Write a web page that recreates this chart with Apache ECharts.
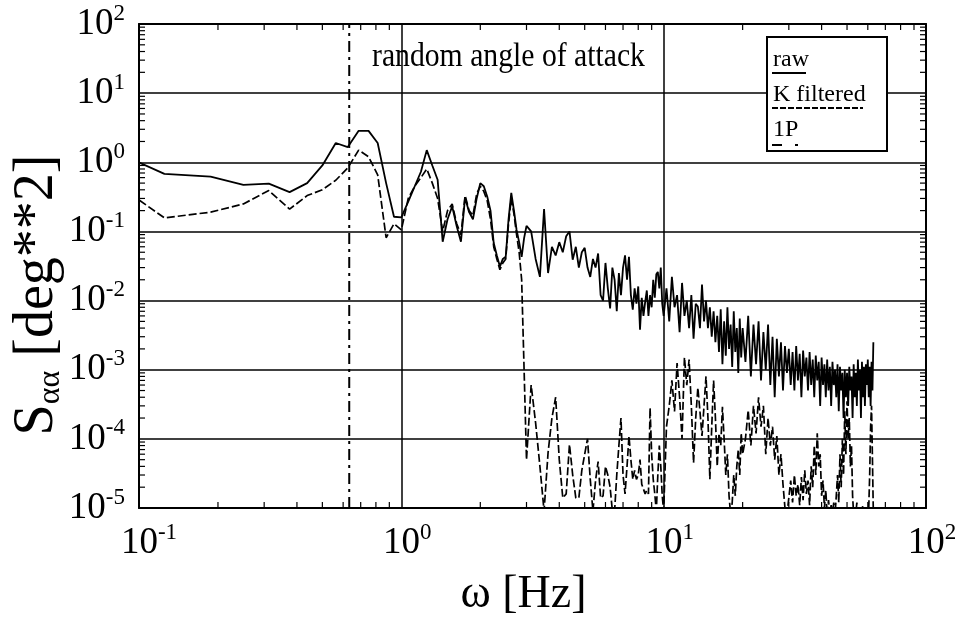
<!DOCTYPE html>
<html>
<head>
<meta charset="utf-8">
<script src="https://cdn.jsdelivr.net/npm/echarts@6/dist/echarts.min.js"></script>
<style>
  html, body { margin: 0; padding: 0; background: #fff; }
  #chart { width: 955px; height: 618px; }
</style>
</head>
<body>
<div id="chart"></div>
<script>
// Spectral density of the angle of attack: raw signal and Kalman-filtered estimate.
// Frequency bins [Hz], in four blocks of increasing spacing.
const freqA = [0.0625,0.125,0.1875,0.25,0.3125,0.375,0.4375,0.5,0.5625,0.625,0.6875,0.75,0.8125,0.875,0.9375,1.0,
  1.0625,1.125,1.1875,1.25,1.3125,1.375,1.4375,1.5,1.5625,1.625,1.6875,1.75,1.8125,1.875,1.9375,2.0,
  2.0625,2.125,2.1875,2.25,2.3125,2.375,2.4375,2.5,2.5625,2.625,2.6875,2.75,2.8125,2.875,2.9375,3.0];
const freqB = [3.125,3.25,3.375,3.5,3.625,3.75,3.875,4,4.125,4.25,4.375,4.5,4.625,4.75,4.875,5,
  5.125,5.25,5.375,5.5,5.625,5.75,5.875,6,6.125,6.25,6.375,6.5,6.625,6.75,6.875,7,
  7.125,7.25,7.375,7.5,7.625,7.75,7.875,8,8.125,8.25,8.375,8.5,8.625,8.75,8.875,9,
  9.125,9.25,9.375,9.5,9.625,9.75,9.875,10];
const freqC = [10.25,10.5,10.75,11,11.25,11.5,11.75,12,12.25,12.5,12.75,13,13.25,13.5,13.75,14,
  14.25,14.5,14.75,15,15.25,15.5,15.75,16,16.25,16.5,16.75,17,17.25,17.5,17.75,18,
  18.25,18.5,18.75,19,19.25,19.5,19.75,20];
const freqD = [20.5,21,21.5,22,22.5,23,23.5,24,24.5,25,25.5,26,26.5,27,27.5,28,28.5,29,29.5,30,
  30.5,31,31.5,32,32.5,33,33.5,34,34.5,35,35.5,36,36.5,37,37.5,38,38.5,39,39.5,40,
  40.5,41,41.5,42,42.5,43,43.5,44,44.5,45,45.5,46,46.5,47,47.5,48,48.5,49,49.5,50,
  50.5,51,51.5,52,52.5,53,53.5,54,54.5,55,55.5,56,56.5,57,57.5,58,58.5,59,59.5,60,
  60.5,61,61.5,62,62.5,63];

// Raw spectrum [deg^2]
const rawA = [2.2,0.68,0.62,0.47,0.49,0.37,0.50,0.9,1.9,1.66,2.85,2.85,1.9,0.5,0.163,0.16,
  0.27,0.45,0.73,1.5,0.9,0.56,0.071,0.15,0.23,0.12,0.071,0.31,0.19,0.15,0.30,0.50,
  0.45,0.32,0.2,0.068,0.045,0.031,0.04,0.043,0.15,0.36,0.2,0.105,0.07,0.043,0.08,0.12];
const rawB = [0.10,0.04,0.022,0.21,0.025,0.06,0.045,0.07,0.05,0.085,
  0.10,0.039,0.06,0.03,0.05,0.058,0.03,0.022,0.04,0.03,
  0.048,0.012,0.01,0.035,0.015,0.0077,0.03,0.02,0.007,0.025,
  0.012,0.03,0.045,0.02,0.043,0.012,0.0074,0.015,0.009,0.016,
  0.0038,0.011,0.006,0.0095,0.014,0.006,0.012,0.008,0.02,0.011,
  0.024,0.026,0.015,0.03,0.009,0.006];
const rawC = [0.015,0.005,0.022,0.008,0.012,0.0035,0.018,0.006,0.010,0.004,
  0.012,0.0028,0.009,0.0082,0.004,0.017,0.005,0.010,0.004,0.008,
  0.003,0.007,0.0025,0.006,0.0018,0.0075,0.0012,0.005,0.0016,0.008,
  0.002,0.0045,0.0011,0.007,0.0018,0.004,0.0009,0.0055,0.0015,0.004];
const rawD = [0.0013,0.006,0.0008,0.0045,0.0012,0.005,0.0007,0.0035,0.001,0.0045,
  0.0006,0.003,0.0004,0.0028,0.0008,0.0025,0.0005,0.0022,0.0009,0.002,
  0.0006,0.0018,0.0005,0.0022,0.0007,0.0017,0.0004,0.0019,0.0008,0.0015,
  0.0005,0.0018,0.0006,0.0014,0.0004,0.0016,0.0007,0.0013,0.0003,0.0015,
  0.0006,0.0012,0.0004,0.0014,0.0005,0.0011,0.0003,0.0013,0.0006,0.001,
  0.0004,0.0012,0.00025,0.0011,0.0005,0.0009,0.0002,0.001,0.0004,0.0009,
  0.0003,0.0011,0.0005,0.0008,0.0002,0.0012,0.0004,0.0009,0.0003,0.0014,
  0.0005,0.001,0.0002,0.0013,0.0004,0.0011,0.0003,0.0012,0.0006,0.0014,
  0.0004,0.0011,0.0003,0.0013,0.0005,0.0025];

// Kalman-filtered spectrum [deg^2]
const kfA = [1.0,0.157,0.19,0.25,0.39,0.21,0.33,0.40,0.55,0.83,1.5,1.2,0.66,0.081,0.129,0.105,
  0.3,0.45,0.6,0.8,0.5,0.3,0.1,0.2,0.25,0.13,0.09,0.33,0.2,0.17,0.35,0.45,
  0.38,0.28,0.15,0.06,0.04,0.028,0.035,0.04,0.13,0.30,0.18,0.09,0.05,0.02,0.001,0.00005];
const kfB = [6e-4,1.7e-4,4e-5,9e-6,6.3e-5,2e-4,4e-4,5e-5,1.4e-5,1.6e-5,
  8.3e-5,3e-5,1.4e-5,1.4e-5,3.5e-5,6e-5,1e-4,2.6e-5,9e-6,2.5e-5,
  4.7e-5,1.4e-5,1.5e-5,4e-5,3e-5,2e-5,9e-6,9e-6,3e-5,8e-5,
  2e-4,3e-5,1.6e-5,4e-5,1.1e-4,5e-5,2.6e-5,3.5e-5,2.6e-5,3e-5,
  5e-5,2.2e-5,2.2e-5,1.6e-5,1.8e-5,1.6e-5,2.8e-4,6e-5,2.6e-5,1.6e-5,
  9e-6,3e-5,8e-5,4e-5,1.5e-5,9e-6];
const kfC = [1.5e-4,3e-4,7e-4,2.5e-4,1.25e-3,4e-4,1e-4,1.5e-3,6e-4,1.4e-3,
  3e-4,4.5e-5,2e-4,5.5e-4,2.5e-4,1.1e-4,3e-4,8e-4,2e-4,2.6e-5,
  1.5e-4,7e-4,2e-4,4e-5,1.2e-4,8e-5,2.9e-4,1e-4,3e-5,6e-5,
  1.5e-5,8e-6,1.2e-5,3e-5,1.5e-5,4e-5,7e-5,3e-5,1.2e-4,6e-5];
const kfD = [1e-4,2.6e-4,8e-5,3e-4,1.2e-4,4e-4,1.5e-4,3e-4,6e-5,2e-4,
  8e-5,1.5e-4,5e-5,1.1e-4,3e-5,6e-5,2.2e-5,1e-5,8e-6,1.4e-5,
  2.5e-5,1.2e-5,3e-5,1.5e-5,2.2e-5,1.1e-5,2.8e-5,1.3e-5,3.5e-5,1.6e-5,
  2.5e-5,1.1e-5,4e-5,2e-5,8e-5,3e-5,1.2e-4,4e-5,6e-5,1.5e-5,
  2.5e-5,1e-5,1.8e-5,8e-6,1.3e-5,8e-6,1.1e-5,8e-6,1.2e-5,8e-6,
  1.5e-5,3e-5,1.2e-5,6e-5,2e-5,1e-4,3e-5,2.5e-4,6e-5,3.5e-4,
  1e-4,2e-4,4e-5,8e-5,1.5e-5,8e-6,1e-5,8e-6,1.2e-5,8e-6,
  8e-6,1e-5,8e-6,8e-6,1.1e-5,8e-6,8e-6,9e-6,8e-6,8e-6,
  1e-5,3e-5,1.5e-4,3e-4,5e-5,8e-6];

// Rotor 1P frequency [Hz]
const onePFreq = 0.633;

// Axis ranges and decade exponents used for the tick labels
const xRange = [0.1, 100];
const yRange = [1e-5, 100];
const xTickPowers = ['-1', '0', '1', '2'];
const yTickPowers = ['-5', '-4', '-3', '-2', '-1', '0', '1', '2'];
const minorMultipliers = [2, 3, 4, 5, 6, 7, 8, 9];

const freqHz = [...freqA, ...freqB, ...freqC, ...freqD];
const rawVals = [...rawA, ...rawB, ...rawC, ...rawD];
const kfVals = [...kfA, ...kfB, ...kfC, ...kfD];

const rawData = freqHz.map((f, i) => [f, rawVals[i]]);
const kfData = freqHz.map((f, i) => [f, kfVals[i]]);

// Minor tick positions (k * 10^n) on both log axes
function minorTickValues(powers) {
  const out = [];
  for (let i = 0; i < powers.length - 1; i++) {
    const base = Math.pow(10, Number(powers[i]));
    minorMultipliers.forEach(k => out.push(k * base));
  }
  return out;
}

const SERIF = '"Liberation Serif", "Times New Roman", serif';
const TICK_LEN = 6;

// "10" with the exponent raised; the x labels get a blank lead-in so that
// the mantissa, not the whole label, sits centred under the tick
function powerLabel(powers, padded) {
  return function (value) {
    const e = String(Math.round(Math.log10(value)));
    if (powers.indexOf(e) < 0) return '';
    const lead = padded ? (e.length > 1 ? '{p2|}' : '{p1|}') : '';
    return lead + '{b|10}{s|' + e + '}';
  };
}
const tickRich = {
  b: { fontFamily: SERIF, fontSize: 37, color: '#000', lineHeight: 44 },
  s: { fontFamily: SERIF, fontSize: 23, color: '#000', verticalAlign: 'top', lineHeight: 24 },
  p1: { width: 12 },
  p2: { width: 20 }
};

const frameLine = { show: true, lineStyle: { color: '#000', width: 2 } };
const gridLine = { show: true, lineStyle: { color: '#000', width: 1.5, type: 'solid' } };

const chart = echarts.init(document.getElementById('chart'), null, { renderer: 'canvas' });

chart.setOption({
  animation: false,
  backgroundColor: '#fff',
  grid: {
    left: 139, top: 24, width: 787, height: 484, show: false,
    containLabel: false, outerBoundsMode: 'none'
  },
  xAxis: [
    {
      type: 'log', min: xRange[0], max: xRange[1], splitNumber: 3,
      axisLine: frameLine, axisTick: { show: false }, splitLine: gridLine,
      axisLabel: { formatter: powerLabel(xTickPowers, true), rich: tickRich, margin: 13 },
      name: 'ω [Hz]', nameLocation: 'middle', nameGap: 64, nameMoveOverlap: false,
      nameTextStyle: { fontFamily: SERIF, fontSize: 46, color: '#000', padding: [0, 18, 0, 0] }
    },
    {
      type: 'log', position: 'top', min: xRange[0], max: xRange[1], splitNumber: 3,
      axisLine: frameLine, axisTick: { show: false }, splitLine: { show: false },
      axisLabel: { show: false }
    }
  ],
  yAxis: [
    {
      type: 'log', min: yRange[0], max: yRange[1], splitNumber: 7,
      axisLine: frameLine, axisTick: { show: false }, splitLine: gridLine,
      axisLabel: { formatter: powerLabel(yTickPowers, false), rich: tickRich, margin: 14 },
      name: '{m|S}{sub|αα}{m| [deg**2]}', nameLocation: 'middle', nameGap: 72, nameMoveOverlap: false,
      nameTextStyle: {
        padding: [0, 58, 0, 0],
        rich: {
          m: { fontFamily: SERIF, fontSize: 56, color: '#000', lineHeight: 60 },
          sub: { fontFamily: SERIF, fontSize: 32, color: '#000', verticalAlign: 'bottom', lineHeight: 34 }
        }
      }
    },
    {
      type: 'log', position: 'right', min: yRange[0], max: yRange[1], splitNumber: 7,
      axisLine: frameLine, axisTick: { show: false }, splitLine: { show: false },
      axisLabel: { show: false }
    }
  ],
  series: [
    {
      name: 'raw', type: 'line', data: rawData, showSymbol: false, symbol: 'none',
      lineStyle: { color: '#000', width: 1.8 }, z: 4, clip: true
    },
    {
      name: 'K filtered', type: 'line', data: kfData, showSymbol: false, symbol: 'none',
      lineStyle: { color: '#000', width: 1.7, type: [8, 3] }, z: 5, clip: true
    },
    {
      name: '1P', type: 'line', data: [[onePFreq, yRange[0]], [onePFreq, yRange[1]]],
      showSymbol: false, symbol: 'none',
      lineStyle: { color: '#000', width: 2, type: [11, 5, 3, 5] }, z: 3, clip: true
    }
  ]
});

// Inward minor ticks on all four sides of the frame, placed through the axis scales
const tickLines = [];
const tickStyle = { stroke: '#000', lineWidth: 1.2 };
minorTickValues(xTickPowers).forEach(v => {
  const b = chart.convertToPixel({ gridIndex: 0 }, [v, yRange[0]]);
  const t = chart.convertToPixel({ gridIndex: 0 }, [v, yRange[1]]);
  tickLines.push({ type: 'line', shape: { x1: b[0], y1: b[1], x2: b[0], y2: b[1] - TICK_LEN }, style: tickStyle });
  tickLines.push({ type: 'line', shape: { x1: t[0], y1: t[1], x2: t[0], y2: t[1] + TICK_LEN }, style: tickStyle });
});
minorTickValues(yTickPowers).forEach(v => {
  const l = chart.convertToPixel({ gridIndex: 0 }, [xRange[0], v]);
  const r = chart.convertToPixel({ gridIndex: 0 }, [xRange[1], v]);
  tickLines.push({ type: 'line', shape: { x1: l[0], y1: l[1], x2: l[0] + TICK_LEN, y2: l[1] }, style: tickStyle });
  tickLines.push({ type: 'line', shape: { x1: r[0], y1: r[1], x2: r[0] - TICK_LEN, y2: r[1] }, style: tickStyle });
});

// Annotation, legend box and minor ticks, all added in one pass
chart.setOption({
  graphic: [
    {
      id: 'minorTicks', type: 'group', x: 0, y: 0, z: 20, silent: true, children: tickLines
    },
    {
      id: 'note', type: 'text', x: 372, y: 41, z: 50, scaleX: 0.9,
      style: { text: 'random angle of attack', font: '33px ' + SERIF, fill: '#000' }
    },
    {
      id: 'legend', type: 'group', x: 767, y: 37, z: 100,
      children: [
        { type: 'rect', shape: { x: 0, y: 0, width: 120, height: 114 },
          style: { fill: '#fff', stroke: '#000', lineWidth: 2 } },
        { type: 'text', x: 6, y: 11, style: { text: 'raw', font: '24px ' + SERIF, fill: '#000' } },
        { type: 'line', shape: { x1: 5, y1: 36, x2: 39, y2: 36 },
          style: { stroke: '#000', lineWidth: 2 } },
        { type: 'text', x: 6, y: 46, style: { text: 'K filtered', font: '24px ' + SERIF, fill: '#000' } },
        { type: 'line', shape: { x1: 5, y1: 71, x2: 96, y2: 71 },
          style: { stroke: '#000', lineWidth: 2, lineDash: [6, 2] } },
        { type: 'text', x: 6, y: 81, style: { text: '1P', font: '24px ' + SERIF, fill: '#000' } },
        { type: 'line', shape: { x1: 5, y1: 108, x2: 34, y2: 108 },
          style: { stroke: '#000', lineWidth: 2, lineDash: [10, 13, 3, 30] } }
      ]
    }
  ]
});
</script>
</body>
</html>
